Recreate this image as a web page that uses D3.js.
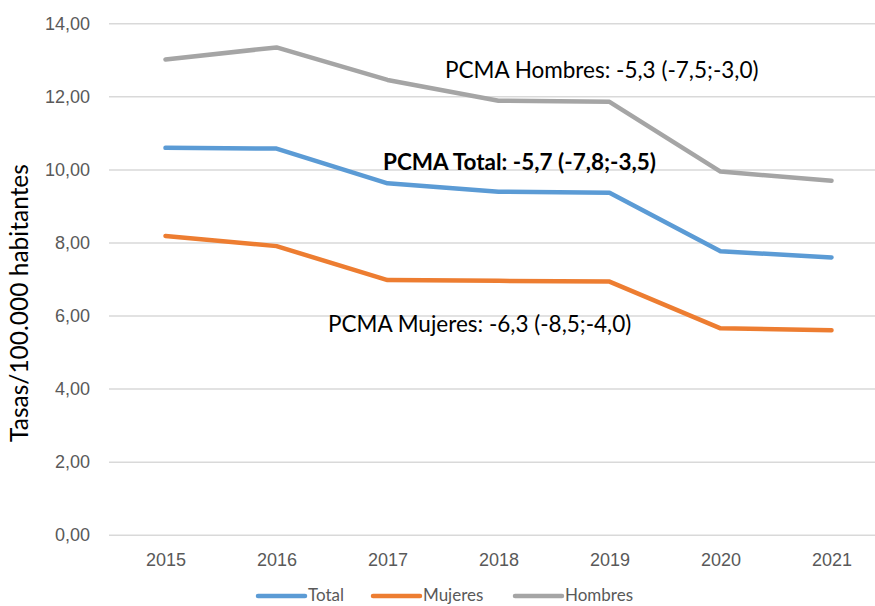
<!DOCTYPE html>
<html>
<head>
<meta charset="utf-8">
<script src="https://cdn.jsdelivr.net/npm/d3@7"></script>
<style>
  body { margin: 0; background: #fff; }
  svg { font-family: Lato, "Open Sans", sans-serif; }
</style>
</head>
<body>
<div id="chart"></div>
<script>
// chart data
var years = ["2015", "2016", "2017", "2018", "2019", "2020", "2021"];
var total = [10.59, 10.57, 9.62, 9.39, 9.36, 7.76, 7.59];
var mujeres = [8.18, 7.90, 6.97, 6.95, 6.93, 5.65, 5.60];
var hombres = [13.01, 13.34, 12.45, 11.88, 11.85, 9.94, 9.69];
var yTicks = [0, 2, 4, 6, 8, 10, 12, 14];
var seriesNames = ["Total", "Mujeres", "Hombres"];
var annotations = [
  "PCMA Hombres: -5,3 (-7,5;-3,0)",
  "PCMA Total: -5,7 (-7,8;-3,5)",
  "PCMA Mujeres: -6,3 (-8,5;-4,0)"
];

var svgWidth = 875;
var svgHeight = 606;

var colors = {
  "Total": "#5B9BD5",
  "Mujeres": "#ED7D31",
  "Hombres": "#A5A5A5"
};

var svg = d3.select("#chart")
  .append("svg")
  .attr("width", svgWidth)
  .attr("height", svgHeight);

// scales
var x = d3.scalePoint()
  .domain(years)
  .range([110, 887])
  .padding(0.5);

var y = d3.scaleLinear()
  .domain([0, 14])
  .range([534.7, 23.3]);

// gridlines + y labels
var yAxis = d3.axisLeft(y)
  .tickValues(yTicks)
  .tickSize(-(svgWidth - 109))
  .tickPadding(19)
  .tickFormat(d => d3.format(".2f")(d).replace(".", ","));

svg.append("g")
  .attr("transform", "translate(109,0)")
  .call(yAxis)
  .call(g => g.select(".domain").remove())
  .call(g => g.selectAll(".tick line").attr("stroke", "#D9D9D9").attr("stroke-width", 1.5))
  .call(g => g.selectAll(".tick text")
    .attr("fill", "#595959")
    .attr("font-size", "18px"));

// x labels
var xAxis = d3.axisBottom(x)
  .tickSize(0)
  .tickPadding(20);

svg.append("g")
  .attr("transform", "translate(0,533)")
  .call(xAxis)
  .call(g => g.select(".domain").remove())
  .call(g => g.selectAll(".tick text")
    .attr("fill", "#595959")
    .attr("font-size", "18px"));

// y title
svg.append("text")
  .attr("transform", "translate(28,303) rotate(-90)")
  .attr("text-anchor", "middle")
  .attr("font-size", "24.5px")
  .attr("fill", "#000")
  .text("Tasas/100.000 habitantes");

// lines
var line = d3.line()
  .x((d, i) => x(years[i]))
  .y(d => y(d));

var seriesData = { "Total": total, "Mujeres": mujeres, "Hombres": hombres };

seriesNames.forEach(function(name) {
  svg.append("path")
    .datum(seriesData[name])
    .attr("fill", "none")
    .attr("stroke", colors[name])
    .attr("stroke-width", 4.5)
    .attr("stroke-linejoin", "round")
    .attr("stroke-linecap", "round")
    .attr("d", line);
});

// annotations
svg.append("text")
  .attr("x", 445).attr("y", 78)
  .attr("font-size", "22.5px")
  .attr("fill", "#000")
  .text(annotations[0]);

svg.append("text")
  .attr("x", 383).attr("y", 170)
  .attr("font-size", "22.5px")
  .attr("font-weight", "bold")
  .attr("fill", "#000")
  .text(annotations[1]);

svg.append("text")
  .attr("x", 328).attr("y", 332)
  .attr("font-size", "22.5px")
  .attr("fill", "#000")
  .text(annotations[2]);

// legend
var legendX = [258, 373, 515];
var legend = svg.append("g");
seriesNames.forEach(function(name, i) {
  legend.append("line")
    .attr("x1", legendX[i]).attr("x2", legendX[i] + 47)
    .attr("y1", 596).attr("y2", 596)
    .attr("stroke", colors[name])
    .attr("stroke-width", 4.5)
    .attr("stroke-linecap", "round");
  legend.append("text")
    .attr("x", legendX[i] + 50)
    .attr("y", 601)
    .attr("font-size", "17px")
    .attr("fill", "#595959")
    .text(name);
});
</script>
</body>
</html>
